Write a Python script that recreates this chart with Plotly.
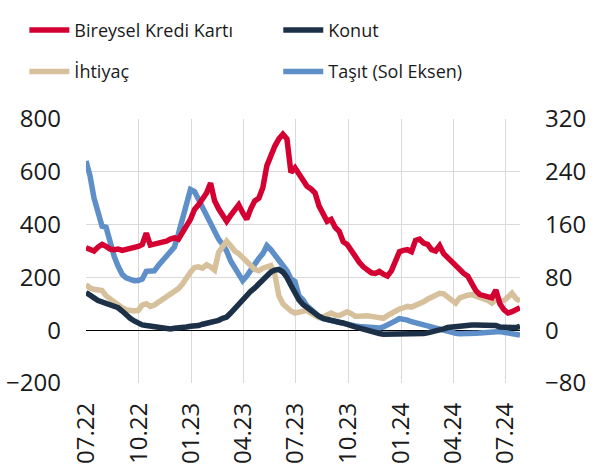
import pandas as pd
import plotly.graph_objects as go

start_date = "2022-07-01"

# Bireysel Kredi Kartı (right axis)
kredi_karti = [125, 123, 120, 126, 130, 127, 123, 122, 123, 121, 122, 123, 125, 127, 130, 147, 129, 130, 131, 133,
               135, 138, 140, 138, 150, 158, 168, 183, 190, 200, 208, 223, 196, 184, 174, 165, 174, 184, 190, 178,
               168, 184, 196, 200, 216, 249, 266, 279, 290, 297, 290, 239, 246, 236, 224, 218, 214, 208, 188, 176,
               165, 168, 156, 150, 134, 130, 120, 110, 103, 96, 91, 87, 86, 89, 85, 82, 90, 104, 119, 121,
               122, 119, 136, 138, 132, 130, 122, 120, 128, 116, 110, 103, 98, 93, 86, 82, 70, 60, 54, 52,
               51, 49, 61, 40, 31, 26, 28, 31, 34]

# Konut (right axis)
konut = [57, 54, 49, 45, 43, 41, 40, 38, 34, 29, 23, 18, 14, 10, 8, 7, 6, 6, 4, 3,
         2, 2, 3, 3, 4, 5, 6, 6, 7, 9, 10, 11, 13, 15, 18, 20, 26, 33, 40, 46,
         52, 59, 64, 70, 74, 82, 88, 91, 92, 88, 80, 68, 56, 46, 39, 34, 29, 24, 21, 18,
         16, 15, 14, 12, 11, 10, 7, 5, 3, 2, 0, -2, -4, -5, -6, -6, -7, -7, -7, -7,
         -7, -7, -6, -6, -5, -4, -3, -2, 0, 2, 4, 5, 6, 6, 7, 7, 8, 8, 8, 9,
         9, 8, 7, 5, 4, 3, 4, 4, 6]

# İhtiyaç (right axis)
ihtiyac = [69, 64, 62, 62, 60, 52, 47, 43, 38, 34, 31, 29, 29, 30, 38, 40, 36, 38, 42, 45,
           49, 53, 58, 63, 70, 80, 88, 95, 96, 94, 99, 96, 91, 118, 128, 135, 128, 120, 116, 109,
           103, 98, 92, 90, 94, 96, 98, 84, 52, 40, 34, 29, 26, 27, 29, 30, 26, 23, 19, 20,
           24, 26, 23, 22, 25, 28, 25, 21, 21, 22, 22, 21, 20, 19, 18, 22, 26, 29, 32, 34,
           36, 35, 37, 40, 43, 47, 50, 54, 56, 55, 51, 45, 41, 49, 52, 53, 54, 52, 50, 49,
           45, 41, 46, 44, 45, 50, 56, 48, 44]

# Taşıt (left axis)
tasit = [641, 585, 500, 440, 394, 390, 325, 280, 242, 212, 198, 190, 187, 188, 194, 223, 223, 225, 245, 262,
         278, 292, 315, 365, 420, 490, 533, 525, 495, 465, 435, 400, 370, 345, 325, 300, 262, 235, 210, 188,
         205, 230, 250, 272, 290, 320, 305, 288, 265, 245, 225, 195, 185, 130, 115, 92, 78, 65, 52, 44,
         40, 36, 33, 28, 24, 20, 18, 16, 14, 12, 10, 9, 8, 8, 12, 18, 25, 35, 44, 42,
         38, 32, 28, 24, 20, 16, 12, 8, 4, 0, -6, -11, -12, -13, -14, -14, -13, -12, -11, -9,
         -8, -6, -5, -5, -8, -10, -12, -14, -18]

tick_dates = ["2022-07-01", "2022-10-01", "2023-01-01", "2023-04-01", "2023-07-01",
              "2023-10-01", "2024-01-01", "2024-04-01", "2024-07-01"]
tick_labels = ["07.22", "10.22", "01.23", "04.23", "07.23", "10.23", "01.24", "04.24", "07.24"]


def dates_for(series):
    return pd.date_range(start_date, periods=len(series), freq="7D")


RED = "#D50032"
NAVY = "#1C3148"
TAN = "#D7C09C"
BLUE = "#5E8FC9"
LW = 5.5

fig = go.Figure()
fig.add_trace(go.Scatter(x=dates_for(ihtiyac), y=ihtiyac, name="İhtiyaç", yaxis="y2",
                         mode="lines", line=dict(color=TAN, width=LW), legend="legend",
                         legendgroup="b", legendrank=2))
fig.add_trace(go.Scatter(x=dates_for(kredi_karti), y=kredi_karti, name="Bireysel Kredi Kartı", yaxis="y2",
                         mode="lines", line=dict(color=RED, width=LW), legend="legend",
                         legendgroup="a", legendrank=1))
fig.add_trace(go.Scatter(x=dates_for(konut), y=konut, name="Konut", yaxis="y2",
                         mode="lines", line=dict(color=NAVY, width=LW), legend="legend2",
                         legendgroup="c", legendrank=1))
fig.add_trace(go.Scatter(x=dates_for(tasit), y=tasit, name="Taşıt (Sol Eksen)", yaxis="y",
                         mode="lines", line=dict(color=BLUE, width=LW), legend="legend2",
                         legendgroup="d", legendrank=2))

font = dict(family="Open Sans, Noto Sans, sans-serif", size=24, color="#1a1a1a")
legend_common = dict(orientation="v", yanchor="top", xanchor="left",
                     font=dict(family="Open Sans, Noto Sans, sans-serif", size=18, color="#1a1a1a"),
                     bgcolor="rgba(0,0,0,0)", tracegroupgap=15, itemwidth=40)

last_date = dates_for(kredi_karti)[-1]

fig.update_layout(
    width=599, height=468,
    margin=dict(l=86, r=79, t=119, b=85, autoexpand=False),
    paper_bgcolor="white", plot_bgcolor="white",
    font=font,
    showlegend=True,
    legend=dict(x=-0.142, y=1.406, **legend_common),
    legend2=dict(x=0.443, y=1.406, **legend_common),
    xaxis=dict(type="date", range=[start_date, last_date], tickvals=tick_dates, ticktext=tick_labels,
               tickangle=-90, showgrid=True, gridcolor="#D9D9D9", gridwidth=1.3,
               showline=False, zeroline=False, ticks="", ticklabelstandoff=14,
               tickfont=font, automargin=False),
    yaxis=dict(range=[-200, 800], dtick=200, tick0=0, showgrid=True, gridcolor="#D9D9D9", gridwidth=1.3,
               zeroline=True, zerolinecolor="#000000", zerolinewidth=1, showline=False,
               ticks="", ticklabelstandoff=24, tickfont=font, automargin=False),
    yaxis2=dict(range=[-80, 320], dtick=80, tick0=0, overlaying="y", side="right", showgrid=False,
                zeroline=False, showline=False, ticks="", ticklabelstandoff=24, tickfont=font,
                automargin=False),
)

fig.write_html("out.html", config={"displayModeBar": False},
               post_script="document.body.style.margin='0';")
